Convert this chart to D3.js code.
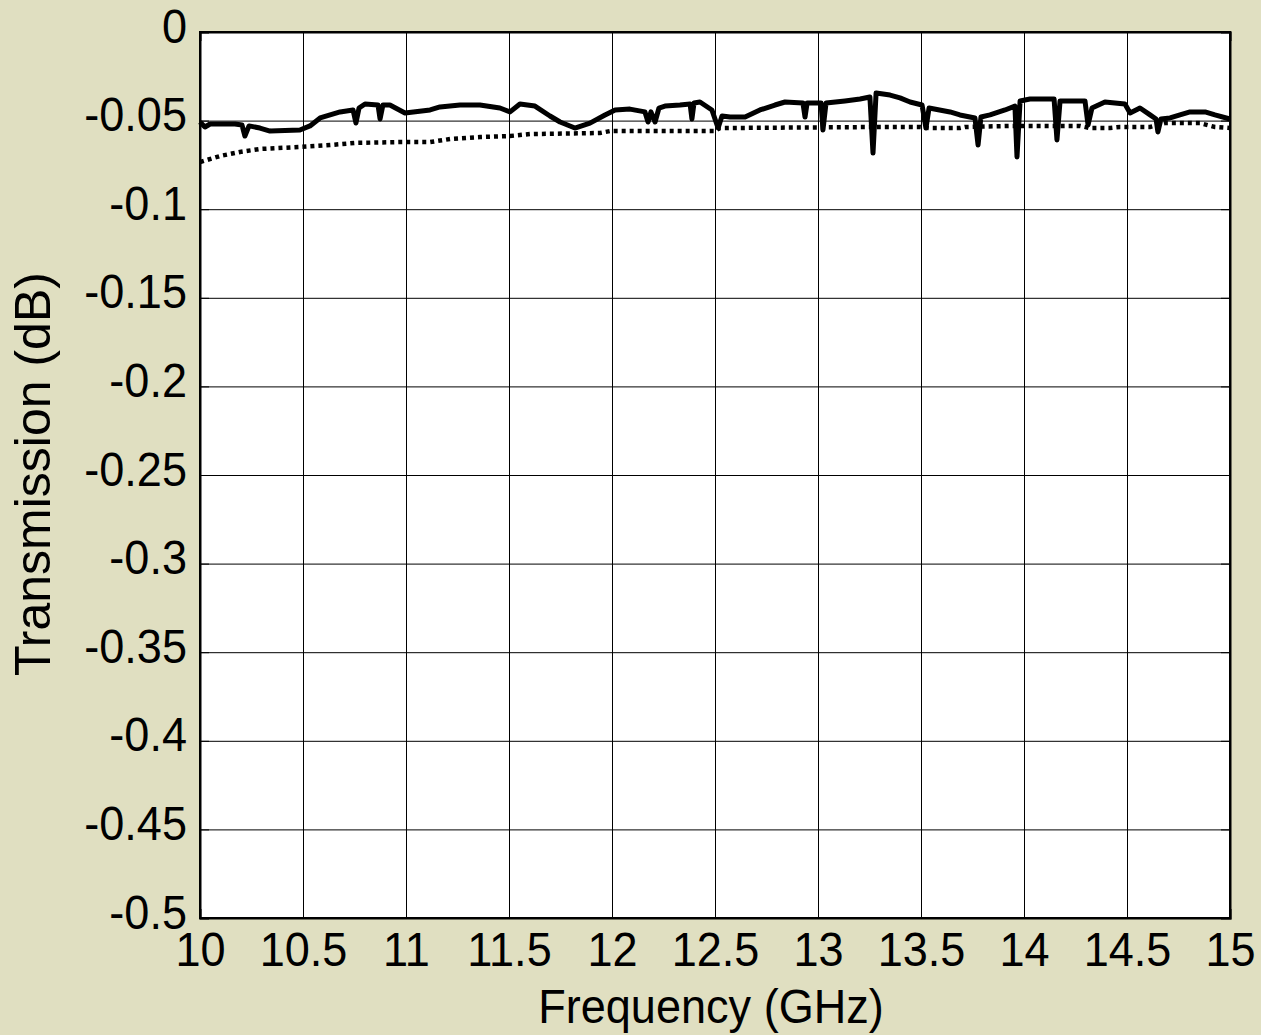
<!DOCTYPE html>
<html>
<head>
<meta charset="utf-8">
<script src="https://cdn.jsdelivr.net/npm/d3@7"></script>
<style>
  html, body { margin: 0; padding: 0; background: #e0dfc1; }
  text { font-family: "Liberation Sans", Arial, sans-serif; fill: #000; }
</style>
</head>
<body>
<div id="chart"></div>
<script>
// measured trace (solid) - frequency in GHz, transmission in dB
var solidFreq = [10.000, 10.024, 10.049, 10.170, 10.204, 10.218, 10.238, 10.291, 10.340, 10.485,
  10.534, 10.583, 10.680, 10.743, 10.757, 10.772, 10.801, 10.864, 10.874, 10.888,
  10.922, 10.995, 11.117, 11.165, 11.262, 11.359, 11.456, 11.505, 11.553, 11.626,
  11.699, 11.748, 11.820, 11.893, 11.966, 12.015, 12.087, 12.160, 12.175, 12.189,
  12.209, 12.228, 12.257, 12.330, 12.379, 12.388, 12.398, 12.427, 12.485, 12.515,
  12.534, 12.573, 12.646, 12.718, 12.791, 12.840, 12.927, 12.937, 12.947, 13.015,
  13.024, 13.039, 13.131, 13.204, 13.252, 13.267, 13.282, 13.350, 13.398, 13.447,
  13.505, 13.524, 13.539, 13.641, 13.689, 13.762, 13.777, 13.791, 13.835, 13.908,
  13.956, 13.966, 13.981, 14.029, 14.146, 14.160, 14.175, 14.296, 14.311, 14.330,
  14.393, 14.490, 14.515, 14.563, 14.612, 14.641, 14.650, 14.665, 14.709, 14.757,
  14.806, 14.879, 14.927, 15.000];
var solidDb = [-0.0508, -0.0536, -0.0519, -0.0519, -0.0525, -0.0587, -0.0530, -0.0542, -0.0559, -0.0553,
  -0.0530, -0.0485, -0.0451, -0.0440, -0.0514, -0.0429, -0.0406, -0.0412, -0.0491, -0.0412,
  -0.0412, -0.0457, -0.0440, -0.0423, -0.0412, -0.0412, -0.0429, -0.0451, -0.0406, -0.0418,
  -0.0474, -0.0508, -0.0542, -0.0514, -0.0468, -0.0440, -0.0435, -0.0451, -0.0508, -0.0451,
  -0.0508, -0.0429, -0.0418, -0.0412, -0.0406, -0.0491, -0.0401, -0.0395, -0.0440, -0.0542,
  -0.0474, -0.0480, -0.0480, -0.0440, -0.0412, -0.0395, -0.0401, -0.0480, -0.0401, -0.0401,
  -0.0553, -0.0401, -0.0389, -0.0378, -0.0367, -0.0683, -0.0344, -0.0356, -0.0372, -0.0395,
  -0.0412, -0.0542, -0.0429, -0.0451, -0.0468, -0.0485, -0.0638, -0.0480, -0.0468, -0.0440,
  -0.0418, -0.0705, -0.0389, -0.0378, -0.0378, -0.0609, -0.0389, -0.0389, -0.0525, -0.0429,
  -0.0395, -0.0406, -0.0457, -0.0429, -0.0468, -0.0491, -0.0564, -0.0491, -0.0485, -0.0468,
  -0.0451, -0.0451, -0.0468, -0.0491];

// simulated trace (dotted)
var dottedFreq = [10.000, 10.097, 10.194, 10.291, 10.485, 10.631, 10.752, 10.971, 11.117, 11.214,
  11.359, 11.505, 11.602, 11.942, 11.990, 12.500, 12.524, 13.301, 13.495, 13.544,
  13.689, 13.714, 13.932, 14.272, 14.320, 14.417, 14.466, 14.612, 14.684, 14.854,
  14.927, 15.000];
var dottedDb = [-0.0734, -0.0700, -0.0677, -0.0660, -0.0649, -0.0638, -0.0626, -0.0621, -0.0621, -0.0604,
  -0.0593, -0.0587, -0.0576, -0.0570, -0.0559, -0.0559, -0.0542, -0.0536, -0.0536, -0.0542,
  -0.0542, -0.0536, -0.0530, -0.0530, -0.0542, -0.0542, -0.0536, -0.0536, -0.0514, -0.0514,
  -0.0536, -0.0542];

var xTicks = [10, 10.5, 11, 11.5, 12, 12.5, 13, 13.5, 14, 14.5, 15];
var xTickLabels = ["10", "10.5", "11", "11.5", "12", "12.5", "13", "13.5", "14", "14.5", "15"];
var yTicks = [0, -0.05, -0.1, -0.15, -0.2, -0.25, -0.3, -0.35, -0.4, -0.45, -0.5];
var yTickLabels = ["0", "-0.05", "-0.1", "-0.15", "-0.2", "-0.25", "-0.3", "-0.35", "-0.4", "-0.45", "-0.5"];

var margin = {top: 32, right: 31, bottom: 117, left: 200},
    width = 1261 - margin.left - margin.right,
    height = 1035 - margin.top - margin.bottom;

// text in the original is a little narrow
var squeeze = 0.92;

var svg = d3.select("#chart")
  .append("svg")
  .attr("width", 1261)
  .attr("height", 1035)
  .style("display", "block")
  .append("g")
  .attr("transform", "translate(" + margin.left + "," + margin.top + ")");

var x = d3.scaleLinear().domain([10, 15]).range([0, width]);
var y = d3.scaleLinear().domain([-0.5, 0]).range([height, 0]);

// plot background
svg.append("rect")
  .attr("width", width)
  .attr("height", height)
  .attr("fill", "#fff");

// grid
svg.append("g")
  .attr("transform", "translate(0," + height + ")")
  .call(d3.axisBottom(x).tickValues(xTicks).tickSize(-height).tickFormat(""))
  .call(g => g.select(".domain").remove())
  .call(g => g.selectAll("line").attr("stroke", "#000").attr("stroke-width", 1));

svg.append("g")
  .call(d3.axisLeft(y).tickValues(yTicks).tickSize(-width).tickFormat(""))
  .call(g => g.select(".domain").remove())
  .call(g => g.selectAll("line").attr("stroke", "#000").attr("stroke-width", 1));

// data lines
var line = d3.line()
  .x(function(d) { return x(d[0]); })
  .y(function(d) { return y(d[1]); });

svg.append("path")
  .datum(dottedFreq.map(function(f, i) { return [f, dottedDb[i]]; }))
  .attr("d", line)
  .attr("fill", "none")
  .attr("stroke", "#000")
  .attr("stroke-width", 4.5)
  .attr("stroke-dasharray", "4,4");

svg.append("path")
  .datum(solidFreq.map(function(f, i) { return [f, solidDb[i]]; }))
  .attr("d", line)
  .attr("fill", "none")
  .attr("stroke", "#000")
  .attr("stroke-width", 5)
  .attr("stroke-linejoin", "round");

// axes with inward ticks
var xAxis = svg.append("g")
  .attr("transform", "translate(0," + height + ")")
  .call(d3.axisBottom(x).tickValues(xTicks).tickSize(-9).tickPadding(13)
    .tickFormat(function(d, i) { return xTickLabels[i]; }));
xAxis.selectAll("text")
  .attr("font-size", 49)
  .attr("dy", "0.71em")
  .attr("transform", "scale(" + squeeze + ",1)");

var yAxis = svg.append("g")
  .call(d3.axisLeft(y).tickValues(yTicks).tickSize(-9).tickFormat(function(d, i) { return yTickLabels[i]; }));
yAxis.selectAll("text")
  .attr("font-size", 49)
  .attr("x", 0)
  .attr("y", 10)
  .attr("dy", 0)
  .attr("transform", "translate(-13,0) scale(" + squeeze + ",1)");

svg.append("g")
  .call(d3.axisTop(x).tickValues(xTicks).tickSize(-9).tickFormat(""));
svg.append("g")
  .attr("transform", "translate(" + width + ",0)")
  .call(d3.axisRight(y).tickValues(yTicks).tickSize(-9).tickFormat(""));

svg.selectAll(".domain").attr("stroke", "#000").attr("stroke-width", 2);
svg.selectAll(".tick line").attr("stroke", "#000");

// box
svg.append("rect")
  .attr("width", width)
  .attr("height", height)
  .attr("fill", "none")
  .attr("stroke", "#000")
  .attr("stroke-width", 2);

// axis titles
svg.append("text")
  .attr("transform", "translate(" + (width / 2 - 4) + "," + (height + 105) + ") scale(" + squeeze + ",1)")
  .attr("text-anchor", "middle")
  .attr("font-size", 49)
  .text("Frequency (GHz)");

svg.append("text")
  .attr("transform", "translate(" + (-150) + "," + (height / 2 - 1) + ") rotate(-90)")
  .attr("text-anchor", "middle")
  .attr("font-size", 50)
  .text("Transmission (dB)");
</script>
</body>
</html>
